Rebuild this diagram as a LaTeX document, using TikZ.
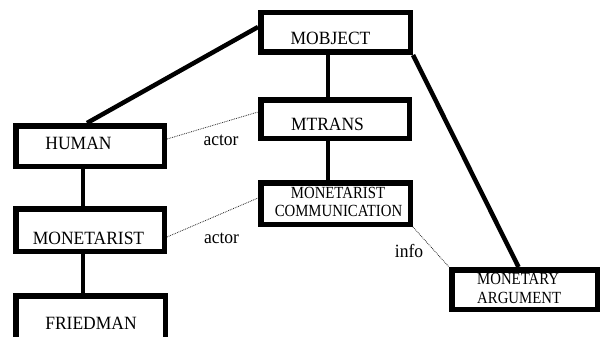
\documentclass[tikz,border=0pt]{standalone}
\usepackage{graphicx}
\usepackage{fontspec}
\setmainfont{Liberation Serif}
\newcommand\tallbig[1]{\scalebox{1}[1.07]{#1}}
\newcommand\tallsmall[1]{\scalebox{1}[1.15]{#1}}
\begin{document}
\begin{tikzpicture}[x=1pt,y=-1pt,
  box/.style={draw, line width=5.5pt, inner sep=0pt},
  big/.style={anchor=base, inner sep=0pt, font=\fontsize{17.5}{21}\selectfont},
  small/.style={anchor=base, inner sep=0pt, font=\fontsize{14.8}{19}\selectfont},
  thick link/.style={line width=4.5pt},
  vlink/.style={line width=3.5pt},
  dotlink/.style={densely dotted, line width=0.8pt, black!85}]
\useasboundingbox (0,0) rectangle (602,337);

% boxes
\node[box, minimum width=149.5pt, minimum height=39.5pt] (mobject) at (335.5,32.5) {};
\node[box, minimum width=148.5pt, minimum height=38.5pt] (mtrans) at (335,119) {};
\node[box, minimum width=148.5pt, minimum height=40.5pt] (human) at (90,146) {};
\node[box, minimum width=148.5pt, minimum height=42.5pt] (monet) at (90,230) {};
\node[box, minimum width=149.5pt, minimum height=46.5pt] (fried) at (90.5,319) {};
\node[box, minimum width=149.5pt, minimum height=41.5pt] (comm) at (335.5,203.5) {};
\node[box, minimum width=145.5pt, minimum height=39.5pt] (arg) at (524.5,289.5) {};

% texts
\node[big] (tmobject) at (330.5,45) {\tallbig{MOBJECT}};
\node[big] (tmtrans) at (327.5,130) {\tallbig{MTRANS}};
\node[big] (thuman) at (78.5,149) {\tallbig{HUMAN}};
\node[big] (tmonet) at (88.5,244) {\tallbig{MONETARIST}};
\node[big] (tfried) at (91,329) {\tallbig{FRIEDMAN}};
\node[small] (tcomm1) at (338,198.5) {\tallsmall{MONETARIST}};
\node[small] (tcomm2) at (338.5,216.5) {\tallsmall{COMMUNICATION}};
\node[small, anchor=base west] (targ1) at (477,284) {\tallsmall{MONETARY}};
\node[small, anchor=base west] (targ2) at (477,303) {\tallsmall{ARGUMENT}};

% solid links
\draw[thick link] ([yshift=5.5pt]mobject.west) -- ([xshift=-3pt]human.north);
\draw[thick link] (mobject.south east) -- ([xshift=-6pt]arg.north);
\draw[vlink] ([xshift=-7.5pt]mobject.south) -- ([xshift=-7pt]mtrans.north);
\draw[vlink] ([xshift=-7pt]mtrans.south) -- ([xshift=-7.5pt]comm.north);
\draw[vlink] ([xshift=-7pt]human.south) -- ([xshift=-7pt]monet.north);
\draw[vlink] ([xshift=-7pt]monet.south) -- ([xshift=-7.5pt]fried.north);

% dotted relations
\draw[dotlink] ([yshift=7pt]human.east) -- ([yshift=7pt]mtrans.west);
\draw[dotlink] ([yshift=-7pt]monet.east) -- ([yshift=5.5pt]comm.west);
\draw[dotlink] (comm.south east) -- (arg.north west);

% relation labels
\node[big] (lactor1) at (221,145) {\tallbig{actor}};
\node[big] (lactor2) at (221.5,243) {\tallbig{actor}};
\node[big] (linfo) at (409,257) {\tallbig{info}};
\end{tikzpicture}
\end{document}
